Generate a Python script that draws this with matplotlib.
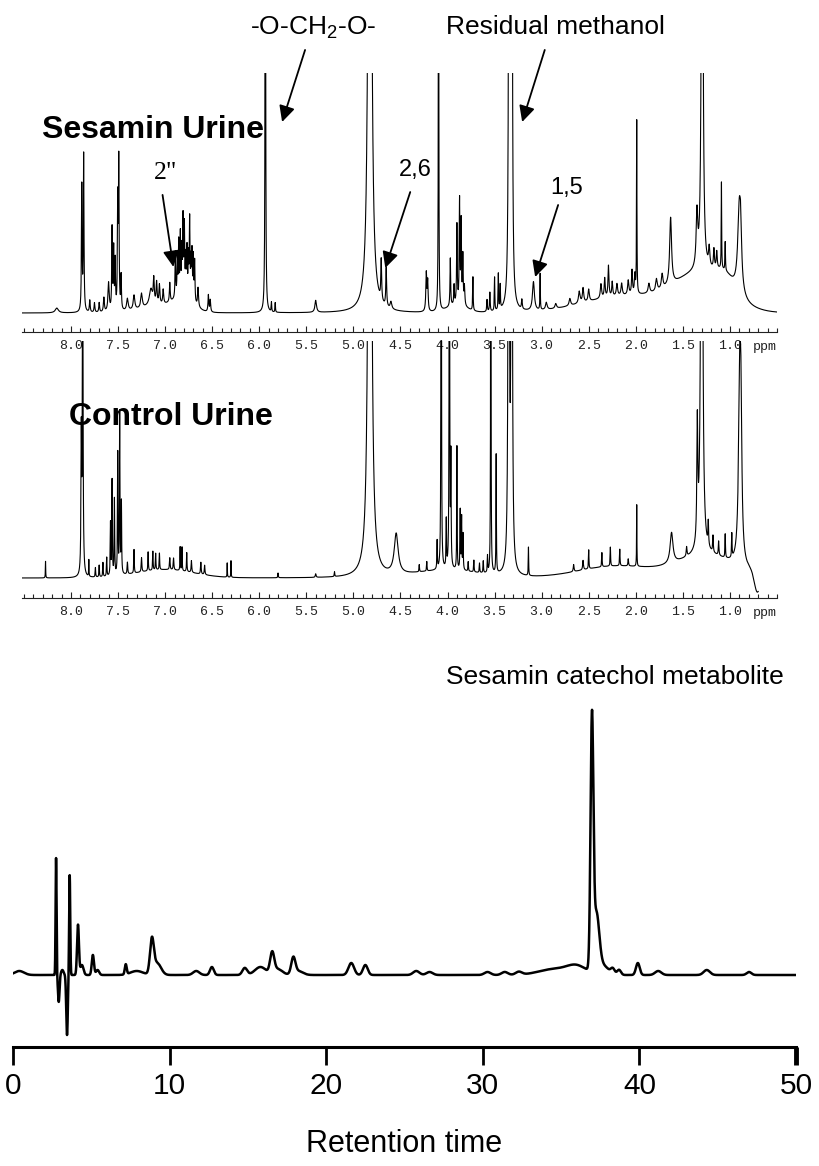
import numpy as np
import matplotlib.pyplot as plt
from matplotlib.ticker import FixedLocator, MultipleLocator, FormatStrFormatter

plt.rcParams['font.family'] = ['Liberation Sans', 'DejaVu Sans']
plt.rcParams['mathtext.fontset'] = 'custom'
plt.rcParams['mathtext.rm'] = 'Liberation Sans'

# 1H NMR - sesamin urine: position (ppm), height (1 = top of frame), half width (ppm)
ses_ppm = [8.15, 7.885, 7.865, 7.80, 7.75, 7.70, 7.65, 7.60, 7.563, 7.546, 7.530, 7.503,
           7.492, 7.467, 7.40, 7.33, 7.25, 7.15, 7.12, 7.09, 7.06, 7.02, 6.95,
           6.891, 6.870, 6.855, 6.838, 6.822, 6.809, 6.795, 6.780, 6.767, 6.752, 6.739,
           6.725, 6.714, 6.700, 6.686, 6.65, 6.54, 6.52, 5.935, 5.87, 5.83, 5.40,
           4.825, 4.704, 4.651, 4.60, 4.225, 4.21, 4.095, 3.97, 3.93, 3.90, 3.872,
           3.855, 3.837, 3.82, 3.73, 3.58, 3.55, 3.50, 3.46, 3.44, 3.345, 3.318,
           3.21, 3.087, 3.016, 2.95, 2.85, 2.70, 2.60, 2.56, 2.50, 2.37, 2.33, 2.29,
           2.25, 2.20, 2.15, 2.08, 2.04, 2.01, 1.99, 1.86, 1.78, 1.72, 1.63, 1.35,
           1.295, 1.22, 1.17, 1.14, 1.09, 1.05, 0.90, 0.885]
ses_height = [0.02, 0.52, 0.65, 0.05, 0.04, 0.04, 0.06, 0.12, 0.34, 0.25, 0.20, 0.44,
              0.61, 0.14, 0.05, 0.06, 0.06, 0.07, 0.10, 0.09, 0.08, 0.06, 0.08,
              0.19, 0.16, 0.22, 0.25, 0.18, 0.31, 0.28, 0.15, 0.19, 0.16, 0.32,
              0.15, 0.19, 0.18, 0.17, 0.08, 0.07, 0.05, 3.0, 0.04, 0.04, 0.05,
              6.0, 0.17, 0.16, 0.03, 0.16, 0.12, 2.5, 0.20, 0.08, 0.33, 0.43,
              0.34, 0.20, 0.08, 0.14, 0.05, 0.08, 0.14, 0.15, 0.10, 5.0, 5.0,
              0.04, 0.12, 0.15, 0.03, 0.02, 0.03, 0.05, 0.06, 0.05, 0.06, 0.08, 0.13,
              0.06, 0.05, 0.05, 0.06, 0.10, 0.08, 0.72, 0.04, 0.05, 0.06, 0.28, 0.22,
              3.0, 0.08, 0.08, 0.07, 0.36, 0.12, 0.36, 0.15]
ses_width = [0.02, 0.004, 0.004, 0.005, 0.005, 0.005, 0.006, 0.008, 0.004, 0.004, 0.004, 0.004,
             0.004, 0.004, 0.01, 0.01, 0.01, 0.02, 0.006, 0.006, 0.006, 0.006, 0.005,
             0.004, 0.004, 0.004, 0.004, 0.004, 0.004, 0.004, 0.004, 0.004, 0.004, 0.004,
             0.004, 0.004, 0.004, 0.004, 0.006, 0.005, 0.005, 0.003, 0.003, 0.003, 0.01,
             0.012, 0.005, 0.005, 0.01, 0.006, 0.005, 0.0025, 0.004, 0.004, 0.004, 0.004,
             0.004, 0.004, 0.005, 0.003, 0.004, 0.004, 0.003, 0.003, 0.003, 0.0045, 0.0045,
             0.005, 0.012, 0.0025, 0.01, 0.01, 0.01, 0.01, 0.008, 0.008, 0.008, 0.006, 0.006,
             0.006, 0.008, 0.008, 0.008, 0.006, 0.006, 0.0025, 0.01, 0.01, 0.01, 0.012, 0.01,
             0.008, 0.008, 0.006, 0.006, 0.0025, 0.003, 0.02, 0.01]
# broad humps under the sesamin spectrum
ses_hump_ppm = [2.1, 1.3, 1.05, 7.05, 6.8, 3.9]
ses_hump_height = [0.07, 0.15, 0.06, 0.03, 0.05, 0.03]
ses_hump_width = [0.45, 0.28, 0.10, 0.2, 0.1, 0.1]

# 1H NMR - control urine
ctl_ppm = [8.27, 7.89, 7.875, 7.81, 7.74, 7.70, 7.66, 7.62, 7.58, 7.563, 7.538, 7.503,
           7.482, 7.464, 7.40, 7.33, 7.25, 7.18, 7.13, 7.10, 7.06, 6.95, 6.91, 6.84,
           6.82, 6.77, 6.72, 6.62, 6.58, 6.34, 6.30, 5.80, 5.40, 5.20, 4.825, 4.545,
           4.30, 4.22, 4.11, 4.067, 4.013, 3.98, 3.964, 3.90, 3.865, 3.85, 3.835, 3.78,
           3.72, 3.66, 3.62, 3.575, 3.54, 3.483, 3.35, 3.318, 3.14, 2.66, 2.56, 2.50,
           2.36, 2.27, 2.17, 2.08, 1.99, 1.62, 1.46, 1.346, 1.30, 1.23, 1.18, 1.12,
           1.05, 0.98, 0.895, 0.882]
ctl_height = [0.07, 0.58, 1.5, 0.07, 0.04, 0.05, 0.06, 0.08, 0.22, 0.40, 0.32, 0.51,
              0.68, 0.30, 0.05, 0.10, 0.06, 0.08, 0.08, 0.07, 0.07, 0.05, 0.05, 0.10,
              0.10, 0.08, 0.05, 0.05, 0.04, 0.06, 0.07, 0.02, 0.015, 0.02, 6.0, 0.17,
              0.03, 0.04, 0.12, 3.0, 0.20, 3.0, 0.45, 0.52, 0.25, 0.22, 0.15, 0.04,
              0.05, 0.04, 0.05, 0.07, 3.0, 0.50, 5.0, 5.0, 0.12, 0.03, 0.04, 0.08,
              0.06, 0.08, 0.07, 0.03, 0.26, 0.13, 0.04, 0.50, 4.0, 0.10, 0.07, 0.06,
              0.10, 0.10, 0.80, 0.40]
ctl_width = [0.002, 0.004, 0.004, 0.002, 0.003, 0.003, 0.003, 0.003, 0.003, 0.003, 0.003, 0.003,
             0.003, 0.003, 0.004, 0.003, 0.004, 0.003, 0.003, 0.003, 0.003, 0.004, 0.004, 0.0025,
             0.0025, 0.003, 0.004, 0.004, 0.004, 0.002, 0.002, 0.003, 0.005, 0.003, 0.012, 0.025,
             0.003, 0.003, 0.003, 0.0025, 0.003, 0.0025, 0.003, 0.0025, 0.003, 0.003, 0.003, 0.003,
             0.003, 0.003, 0.003, 0.003, 0.002, 0.0025, 0.0045, 0.0045, 0.0025, 0.005, 0.005, 0.003,
             0.003, 0.003, 0.003, 0.004, 0.002, 0.018, 0.005, 0.006, 0.008, 0.004, 0.004, 0.004,
             0.003, 0.003, 0.015, 0.01]
ctl_hump_ppm = [7.0, 4.0, 2.2, 1.25, 0.71]
ctl_hump_height = [0.035, 0.03, 0.05, 0.09, -0.085]
ctl_hump_width = [0.3, 0.35, 0.4, 0.3, 0.03]

# HPLC chromatogram: retention time (min), signal, peak sigma (min)
hplc_time = [0.4, 2.75, 2.92, 3.15, 3.45, 3.62, 4.15, 4.40, 5.1, 5.4, 7.2, 7.9, 8.87, 9.2,
             11.7, 12.7, 14.8, 15.8, 16.55, 16.9, 17.9, 18.2, 21.6, 22.5, 25.75, 26.6,
             30.3, 31.4, 32.3, 34.6, 36.0, 36.97, 37.25, 37.6, 38.3, 38.7, 39.9, 41.2,
             44.3, 47.0]
hplc_signal = [4, 117, -27, 5, -60, 100, 50, 10, 20, 5, 10, 4, 33, 12,
               4, 8, 7, 8, 20, 6, 16, 4, 12, 10, 4, 3,
               3, 3, 3, 6, 8, 243, 55, 10, 5, 5, 12, 4,
               5, 3]
hplc_sigma = [0.3, 0.03, 0.05, 0.08, 0.05, 0.035, 0.06, 0.1, 0.07, 0.1, 0.06, 0.4, 0.12, 0.25,
              0.2, 0.12, 0.15, 0.35, 0.13, 0.3, 0.13, 0.3, 0.18, 0.15, 0.2, 0.2,
              0.2, 0.2, 0.2, 1.0, 0.6, 0.09, 0.18, 0.4, 0.12, 0.12, 0.12, 0.2,
              0.2, 0.15]
hplc_ticks = [0, 10, 20, 30, 40, 50]


def lorentz_sum(x, pos, height, width):
    y = np.zeros_like(x)
    for p, h, w in zip(pos, height, width):
        y += h * w ** 2 / ((x - p) ** 2 + w ** 2)
    return y


def gauss_sum(x, pos, height, width):
    y = np.zeros_like(x)
    for p, h, w in zip(pos, height, width):
        y += h * np.exp(-0.5 * ((x - p) / w) ** 2)
    return y


W, H = 820, 1166


def box(left, top, right, bottom):
    # axes rectangle from pixel edges (origin top left)
    return [left / W, 1 - bottom / H, (right - left) / W, (bottom - top) / H]


fig = plt.figure(figsize=(W / 100, H / 100), dpi=100)

ax1 = fig.add_axes(box(22, 73, 777, 332))
ax2 = fig.add_axes(box(22, 341, 777, 598))
ax3 = fig.add_axes(box(13, 690, 796, 1047))

x1 = np.arange(0.5, 8.52, 0.0005)
y1 = lorentz_sum(x1, ses_ppm, ses_height, ses_width) + \
    gauss_sum(x1, ses_hump_ppm, ses_hump_height, ses_hump_width)
x2 = np.arange(0.70, 8.52, 0.0005)
y2 = lorentz_sum(x2, ctl_ppm, ctl_height, ctl_width) + \
    gauss_sum(x2, ctl_hump_ppm, ctl_hump_height, ctl_hump_width)

ax1.plot(x1, y1, color='k', lw=0.8)
ax2.plot(x2, y2, color='k', lw=0.8)
ax1.set_ylim(-19 / 240, 1)
ax2.set_ylim(-20 / 237, 1)

for ax in (ax1, ax2):
    ax.patch.set_visible(False)
    ax.set_xlim(8.52, 0.5)
    for s in ('top', 'left', 'right'):
        ax.spines[s].set_visible(False)
    ax.spines['bottom'].set_linewidth(0.8)
    ax.spines['bottom'].set_color('#222')
    ax.set_yticks([])
    ax.xaxis.set_major_locator(FixedLocator(np.arange(1.0, 8.01, 0.5)))
    ax.xaxis.set_minor_locator(MultipleLocator(0.1))
    ax.xaxis.set_major_formatter(FormatStrFormatter('%.1f'))
    ax.tick_params(axis='x', which='both', direction='in', color='#222', width=0.8)
    ax.tick_params(axis='x', which='major', length=4.5, pad=5.5, labelsize=9.5,
                   labelcolor='#222', labelfontfamily='Liberation Mono')
    ax.tick_params(axis='x', which='minor', length=3)
    ax.annotate('ppm', xy=(0.63, 0), xycoords=('data', 'axes fraction'),
                xytext=(0, -10.8), textcoords='offset points', ha='center', va='center',
                fontsize=9.5, color='#222', family='Liberation Mono')

# labels and arrows on the sesamin spectrum
arrow = dict(arrowstyle='-|>', color='k', lw=1.3, mutation_scale=24, shrinkA=0, shrinkB=0)
ax1.text(7.124, 0.7625, 'Sesamin Urine', fontsize=23, fontweight='bold', ha='center', va='center')
ax1.text(5.426, 1.1875, '-O-CH$_2$-O-', fontsize=19, ha='center', va='center')
ax1.annotate('', xy=(5.757, 0.796), xytext=(5.513, 1.096), arrowprops=arrow, annotation_clip=False)
ax1.text(2.857, 1.19, 'Residual methanol', fontsize=19, ha='center', va='center')
ax1.annotate('', xy=(3.207, 0.796), xytext=(2.967, 1.096), arrowprops=arrow, annotation_clip=False)
ax1.text(6.999, 0.583, '2"', fontsize=18.5, family='Liberation Serif', ha='center', va='center')
ax1.annotate('', xy=(6.912, 0.192), xytext=(7.027, 0.492), arrowprops=arrow)
ax1.text(4.343, 0.596, '2,6', fontsize=17, ha='center', va='center')
ax1.annotate('', xy=(4.661, 0.1875), xytext=(4.396, 0.504), arrowprops=arrow)
ax1.text(2.73, 0.52, '1,5', fontsize=17, ha='center', va='center')
ax1.annotate('', xy=(3.069, 0.15), xytext=(2.825, 0.45), arrowprops=arrow)

ax2.text(6.94, 0.679, 'Control Urine', fontsize=23, fontweight='bold', ha='center', va='center')

# chromatogram
t = np.arange(0, 50.001, 0.005)
ax3.plot(t, gauss_sum(t, hplc_time, hplc_signal, hplc_sigma), color='k', lw=1.8)
ax3.set_xlim(0, 50)
ax3.set_ylim(-72, 285)
ax3.patch.set_visible(False)
for s in ('top', 'left', 'right'):
    ax3.spines[s].set_visible(False)
ax3.spines['bottom'].set_linewidth(2.2)
ax3.set_yticks([])
ax3.set_xticks(hplc_ticks)
ax3.tick_params(axis='x', direction='out', length=13, width=2, labelsize=21.5, pad=4.7)
ax3.xaxis.get_major_ticks()[-1].tick1line.set_markeredgewidth(3.5)
ax3.set_xlabel('Retention time', fontsize=22, labelpad=21)
ax3.text(38.44, 298, 'Sesamin catechol metabolite', fontsize=19, ha='center', va='center')

plt.savefig('out.png', dpi=100)
